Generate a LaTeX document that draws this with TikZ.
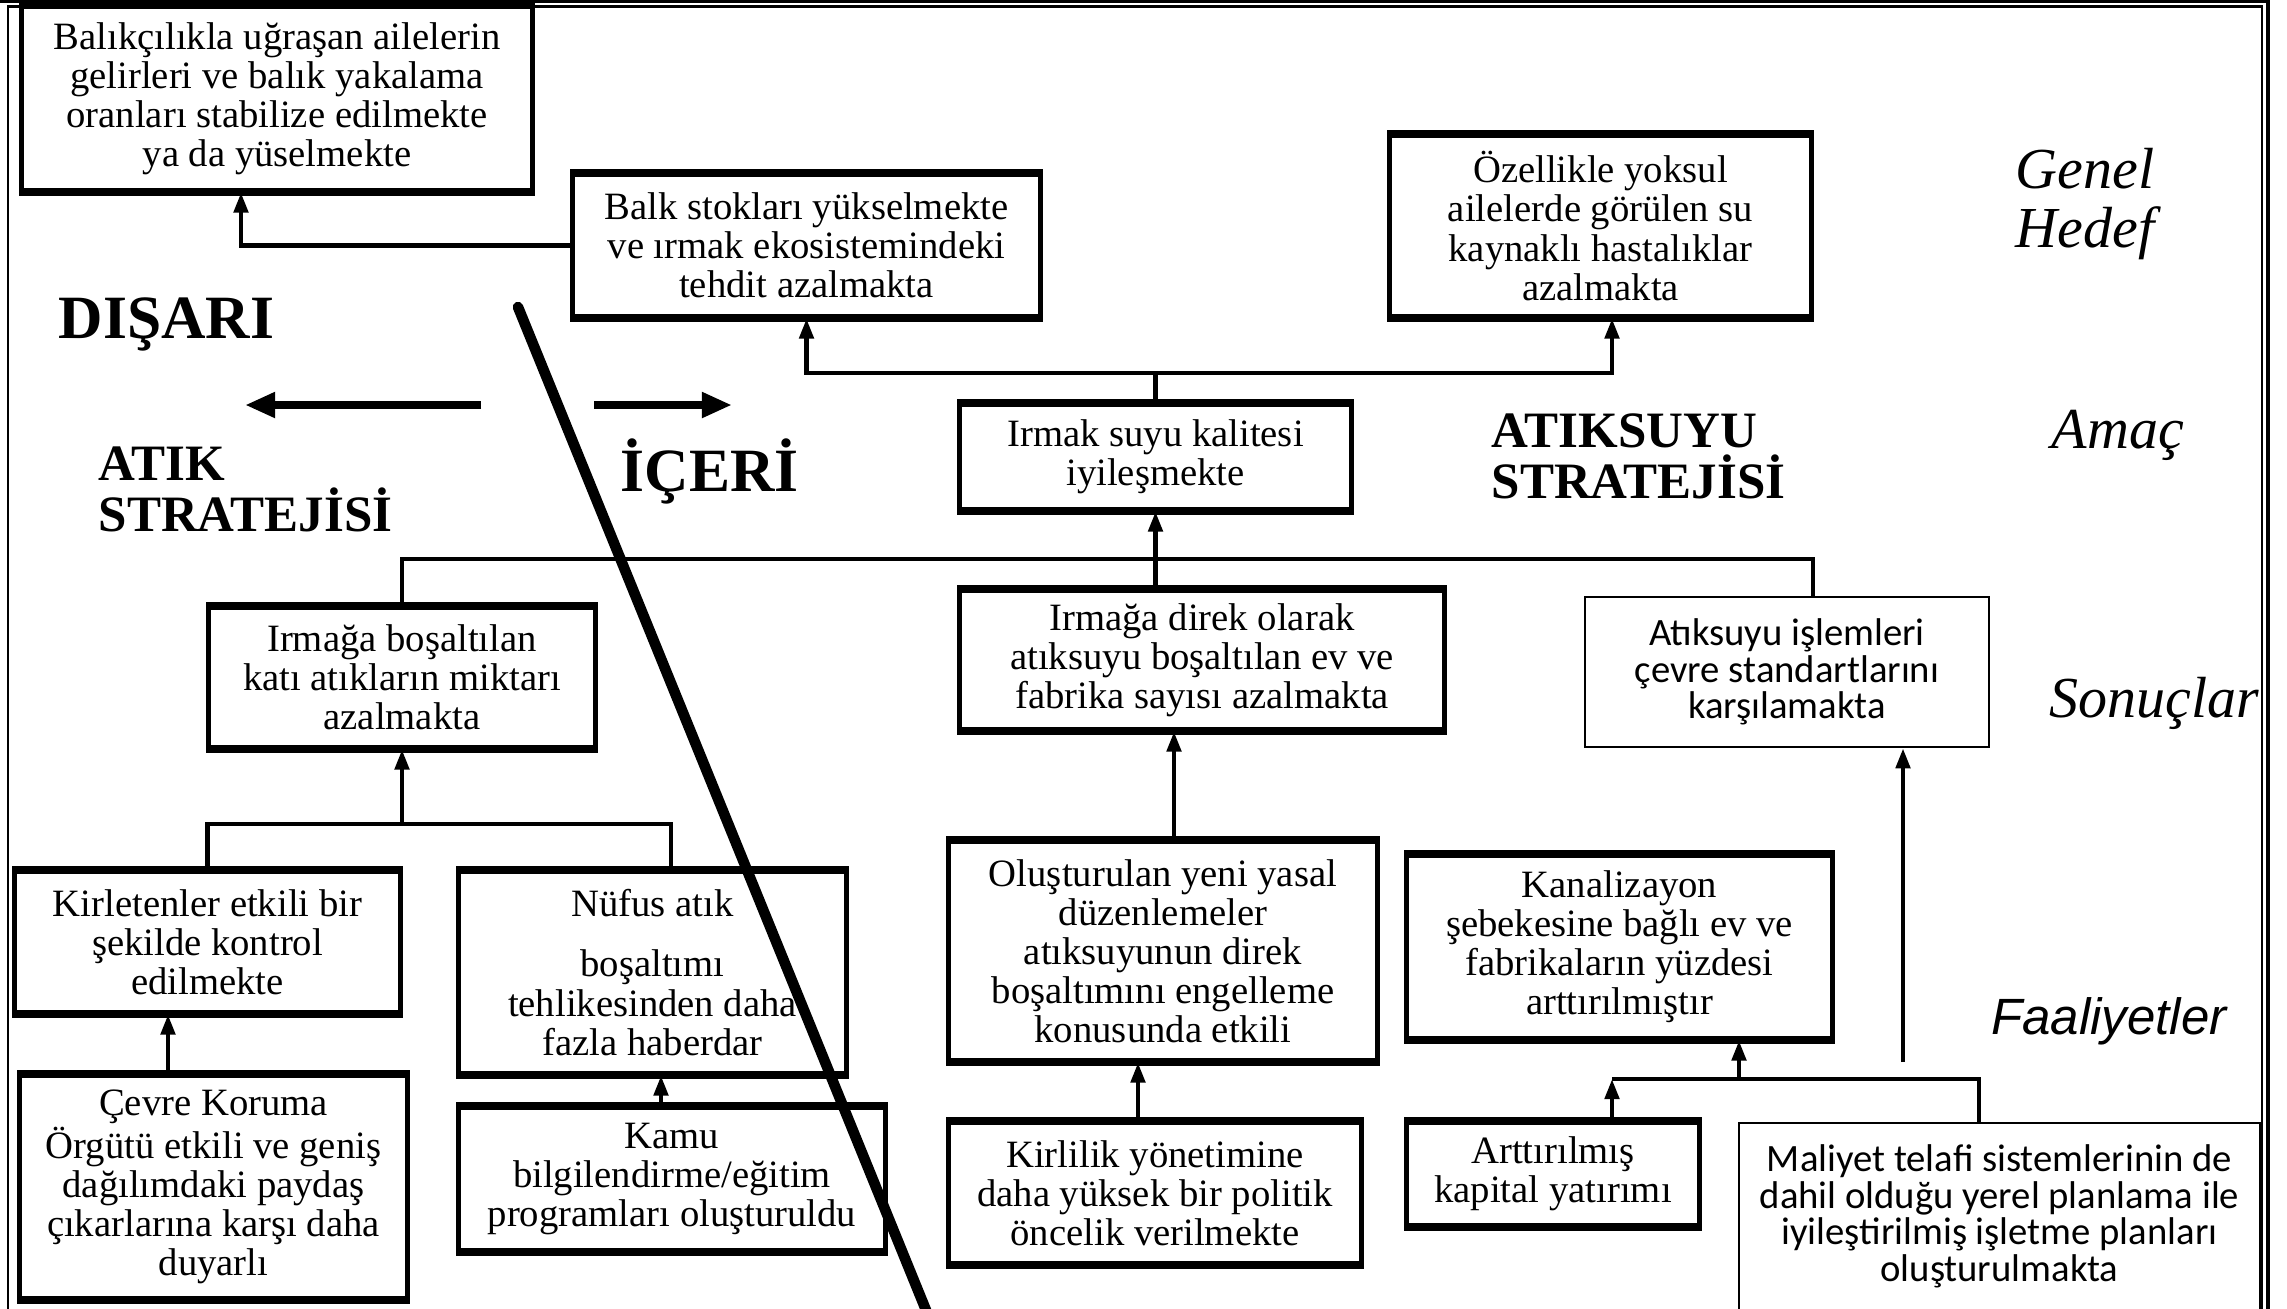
\documentclass[tikz,border=0pt]{standalone}
\usepackage{fontspec}
\setmainfont{Liberation Serif}
\newfontfamily\carl{Carlito}
\newfontfamily\arl{Liberation Sans}
\usetikzlibrary{arrows.meta}
\begin{document}
\begin{tikzpicture}[x=0.01cm,y=-0.01cm,
  box/.style={draw, line width=1.4pt, align=center, inner sep=0pt, font=\fontsize{11}{11.1}\selectfont},
  sbox/.style={draw, line width=0.7pt, align=center, inner sep=0pt, font=\carl\fontsize{11}{10.4}\selectfont},
  conn/.style={line width=1.3pt},
  arr/.style={conn,-{Triangle[length=0.2cm,width=0.14cm]}},
  bigarr/.style={line width=2.2pt,-{Triangle[length=0.3cm,width=0.24cm]}},
  lvl/.style={font=\itshape\fontsize{16.5}{16.6}\selectfont, inner sep=0pt},
  strat/.style={font=\bfseries\fontsize{14.5}{14.5}\selectfont, align=left, inner sep=0pt, anchor=west},
  dir/.style={font=\bfseries\fontsize{17.5}{17.5}\selectfont, inner sep=0pt, anchor=west},
  hedge/.style={line width=2.1pt}
]
\useasboundingbox (0,0) rectangle (2287,1308);
% frame
\draw[line width=0.9pt] (0,1.5) -- (2268,1.5) -- (2268,1320);
\draw[line width=0.6pt] (8,1320) -- (8,6.5) -- (2262,6.5) -- (2262,1320);

% boxes
\node[box, minimum width=5.10cm, minimum height=1.83cm] (B1) at (277,98.5)
  {Balıkçılıkla uğraşan ailelerin\\gelirleri ve balık yakalama\\oranları stabilize edilmekte\\ya da yüselmekte};
\node[box, minimum width=4.67cm, minimum height=1.41cm] (B2) at (806.5,245.5)
  {Balk stokları yükselmekte\\ve ırmak ekosistemindeki\\tehdit azalmakta};
\node[box, minimum width=4.21cm, minimum height=1.80cm] (B3) at (1600.5,226)
  {Özellikle yoksul\\ailelerde görülen su\\kaynaklı hastalıklar\\azalmakta};
\node[box, minimum width=3.91cm, minimum height=1.04cm] (B4) at (1155.5,457)
  {Irmak suyu kalitesi\\iyileşmekte};
\node[box, minimum width=3.86cm, minimum height=1.39cm] (B5) at (402,677.5)
  {Irmağa boşaltılan\\katı atıkların miktarı\\azalmakta};
\node[box, minimum width=4.84cm, minimum height=1.38cm] (B6) at (1202,660)
  {Irmağa direk olarak\\atıksuyu boşaltılan ev ve\\fabrika sayısı azalmakta};
\node[sbox, minimum width=4.04cm, minimum height=1.50cm] (B7) at (1787,672)
  {Atıksuyu işlemleri\\çevre standartlarını\\karşılamakta};
\node[box, minimum width=3.85cm, minimum height=1.40cm] (B8) at (207.5,942)
  {Kirletenler etkili bir\\şekilde kontrol\\edilmekte};
\node[box, minimum width=3.87cm, minimum height=2.01cm] (B9) at (652.5,972.5)
  {Nüfus atık\\[6pt]boşaltımı\\tehlikesinden daha\\fazla haberdar};
\node[box, minimum width=3.87cm, minimum height=2.22cm] (B10) at (213.5,1187)
  {Çevre Koruma\\Örgütü etkili ve geniş\\dağılımdaki paydaş\\çıkarlarına karşı daha\\duyarlı};
\node[box, minimum width=4.26cm, minimum height=1.42cm] (B11) at (672,1179)
  {Kamu\\bilgilendirme/eğitim\\programları oluşturuldu};
\node[box, minimum width=4.28cm, minimum height=2.18cm] (B12) at (1163,951)
  {Oluşturulan yeni yasal\\düzenlemeler\\atıksuyunun direk\\boşaltımını engelleme\\konusunda etkili};
\node[box, minimum width=4.12cm, minimum height=1.40cm] (B13) at (1155,1193)
  {Kirlilik yönetimine\\daha yüksek bir politik\\öncelik verilmekte};
\node[box, minimum width=4.25cm, minimum height=1.82cm] (B14) at (1619.5,947)
  {Kanalizayon\\şebekesine bağlı ev ve\\fabrikaların yüzdesi\\arttırılmıştır};
\node[box, minimum width=2.92cm, minimum height=1.02cm] (B15) at (1553,1174)
  {Arttırılmış\\kapital yatırımı};
\node[sbox, minimum width=5.21cm, minimum height=1.87cm] (B16) at (1999.5,1216.5)
  {Maliyet telafi sistemlerinin de\\dahil olduğu yerel planlama ile\\iyileştirilmiş işletme planları\\oluşturulmakta};

% heavier horizontal edges of the printed boxes
\foreach \n in {B1,B2,B3,B4,B5,B6,B8,B9,B10,B11,B12,B13,B14,B15}
  \draw[hedge] (\n.north west) -- (\n.north east) (\n.south west) -- (\n.south east);

% level labels
\node[lvl, align=center] (Lgen) at (2085,204) {Genel\\Hedef};
\node[lvl] (Lama) at (2118,435) {Amaç};
\node[lvl, anchor=west] (Lson) at (2049,703) {Sonuçlar};
\node[font=\arl\itshape\fontsize{14.5}{14.5}\selectfont, inner sep=0pt] (Lfaa) at (2109,1021) {Faaliyetler};

% strategy labels
\node[dir] (Ldis) at (58,324) {DIŞARI};
\node[dir] (Lice) at (620,471) {İÇERİ};
\node[strat] (Latik) at (98,489.5) {ATIK\\STRATEJİSİ};
\node[strat] (Latsu) at (1491,456.5) {ATIKSUYU\\STRATEJİSİ};

% direction arrows and divider
\coordinate (dL1) at (481,405); \coordinate (dL2) at (245,405);
\coordinate (dR1) at (594,405); \coordinate (dR2) at (732,405);
\draw[bigarr] (dL1) -- (dL2);
\draw[bigarr] (dR1) -- (dR2);
\coordinate (dv1) at (518,307); \coordinate (dv2) at (930,1320);
\draw[line width=3pt, line cap=round] (dv1) -- (dv2);

% connectors
\coordinate (k1) at (241,0);
\draw[arr] (B2.west) -| (B1.south -| k1);
\coordinate (t) at (0,373);
\coordinate (k3) at (1612,0);
\draw[conn] (B4.north) -- (B4.north |- t);
\draw[arr] (B4.north |- t) -| (B2.south);
\draw[arr] (B4.north |- t) -| (B3.south -| k3);

\coordinate (m) at (1813,559);
\draw[conn] (B5.north) |- (m) -- (m |- B7.north);
\draw[arr] (B4.south |- B6.north) -- (B4.south);

\coordinate (b) at (671,824);
\draw[conn] (B8.north) |- (b) -- (b |- B9.north);
\draw[arr] (B5.south |- b) -- (B5.south);

\coordinate (c1) at (168,0);
\draw[arr] (B10.north -| c1) -- (B8.south -| c1);
\coordinate (c2) at (661,0);
\draw[arr] (B11.north -| c2) -- (B9.south -| c2);
\coordinate (c3) at (1174,0);
\draw[arr] (B12.north -| c3) -- (B6.south -| c3);
\coordinate (c4) at (1138,0);
\draw[arr] (B13.north -| c4) -- (B12.south -| c4);

\coordinate (f) at (1979,1079);
\coordinate (c5) at (1612,0);
\coordinate (c6) at (1739,0);
\draw[conn] (B16.north -| f) -- (f) -- (f -| c5);
\draw[arr] (B15.north -| c5) -- (f -| c5);
\draw[arr] (f -| c6) -- (B14.south -| c6);

\coordinate (g) at (1903,1062);
\draw[arr] (g) -- (B7.south -| g);
\end{tikzpicture}
\end{document}
